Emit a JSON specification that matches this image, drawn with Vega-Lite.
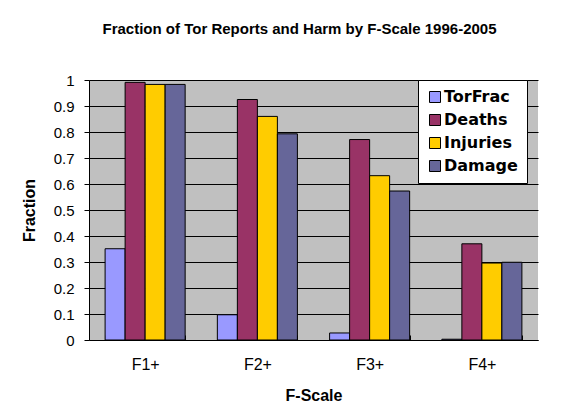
{
  "$schema": "https://vega.github.io/schema/vega-lite/v6.json",
  "width": 449,
  "height": 260,
  "autosize": {"type": "none"},
  "padding": {"left": 89, "top": 80, "right": 32, "bottom": 75},
  "background": "white",
  "title": {
    "text": "Fraction of Tor Reports and Harm by F-Scale 1996-2005",
    "font": "Liberation Sans",
    "fontSize": 15,
    "fontWeight": "bold",
    "color": "black",
    "anchor": "middle",
    "frame": "group",
    "dx": -14,
    "baseline": "alphabetic",
    "offset": 24
  },
  "data": {
    "values": [
      {"scale": "F1+", "series": "TorFrac", "value": 0.351},
      {"scale": "F1+", "series": "Deaths", "value": 0.991},
      {"scale": "F1+", "series": "Injuries", "value": 0.983},
      {"scale": "F1+", "series": "Damage", "value": 0.983},
      {"scale": "F2+", "series": "TorFrac", "value": 0.097},
      {"scale": "F2+", "series": "Deaths", "value": 0.925},
      {"scale": "F2+", "series": "Injuries", "value": 0.86},
      {"scale": "F2+", "series": "Damage", "value": 0.793},
      {"scale": "F3+", "series": "TorFrac", "value": 0.027},
      {"scale": "F3+", "series": "Deaths", "value": 0.771},
      {"scale": "F3+", "series": "Injuries", "value": 0.632},
      {"scale": "F3+", "series": "Damage", "value": 0.573},
      {"scale": "F4+", "series": "TorFrac", "value": 0.003},
      {"scale": "F4+", "series": "Deaths", "value": 0.37},
      {"scale": "F4+", "series": "Injuries", "value": 0.296},
      {"scale": "F4+", "series": "Damage", "value": 0.299}
    ]
  },
  "mark": {"type": "bar", "stroke": "black", "strokeWidth": 1},
  "encoding": {
    "x": {
      "field": "scale",
      "type": "nominal",
      "sort": ["F1+", "F2+", "F3+", "F4+"],
      "scale": {"paddingInner": 0.287, "paddingOuter": 0.1435},
      "axis": {
        "title": "F-Scale",
        "labelAngle": 0,
        "labelFont": "Liberation Sans",
        "labelFontSize": 16,
        "labelColor": "black",
        "labelPadding": 21,
        "tickBand": "extent",
        "tickSize": -5,
        "tickColor": "black",
        "domainColor": "black",
        "titleFont": "Liberation Sans",
        "titleFontSize": 16,
        "titleFontWeight": "bold",
        "titleColor": "black",
        "titlePadding": 15
      }
    },
    "xOffset": {
      "field": "series",
      "type": "nominal",
      "sort": ["TorFrac", "Deaths", "Injuries", "Damage"],
      "scale": {"paddingInner": 0, "paddingOuter": 0}
    },
    "y": {
      "field": "value",
      "type": "quantitative",
      "scale": {"domain": [0, 1], "nice": false},
      "axis": {
        "title": "Fraction",
        "values": [0, 0.1, 0.2, 0.3, 0.4, 0.5, 0.6, 0.7, 0.8, 0.9, 1],
        "format": "~g",
        "labelFont": "Liberation Sans",
        "labelFontSize": 15,
        "labelColor": "black",
        "labelPadding": 10,
        "tickSize": 5,
        "tickColor": "black",
        "domainColor": "black",
        "grid": true,
        "gridColor": "black",
        "gridOpacity": 1,
        "titleFont": "Liberation Sans",
        "titleFontSize": 16,
        "titleFontWeight": "bold",
        "titleColor": "black",
        "titlePadding": 16
      }
    },
    "color": {
      "field": "series",
      "type": "nominal",
      "sort": ["TorFrac", "Deaths", "Injuries", "Damage"],
      "scale": {
        "domain": ["TorFrac", "Deaths", "Injuries", "Damage"],
        "range": ["#9999FF", "#993366", "#FFCC00", "#666699"]
      },
      "legend": {
        "title": null,
        "orient": "none",
        "legendX": 329,
        "legendY": 0,
        "fillColor": "white",
        "strokeColor": "black",
        "padding": 9,
        "symbolType": "square",
        "symbolSize": 121,
        "symbolStrokeColor": "black",
        "symbolStrokeWidth": 1,
        "symbolOpacity": 1,
        "labelFont": "DejaVu Sans",
        "labelFontSize": 16,
        "labelFontWeight": "bold",
        "labelColor": "black",
        "labelOffset": 1,
        "rowPadding": 7,
        "labelLimit": 200
      }
    }
  },
  "config": {
    "view": {"fill": "#C0C0C0", "stroke": null},
    "axis": {"gridColor": "black"}
  }
}
